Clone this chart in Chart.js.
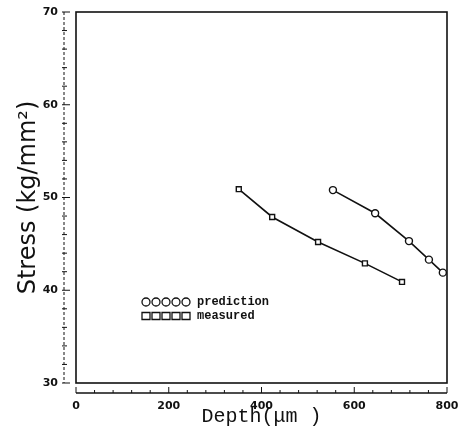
<!DOCTYPE html>
<html>
<head>
<meta charset="utf-8">
<script src="https://cdn.jsdelivr.net/npm/chart.js@4/dist/chart.umd.min.js"></script>
<style>
  html, body { margin: 0; padding: 0; background: #fff; }
  #wrap { width: 468px; height: 437px; }
</style>
</head>
<body>
<div id="wrap"><canvas id="stressChart" width="468" height="437"></canvas></div>
<script>
// values
const predictionDepth = [554, 645, 718, 761, 791];
const predictionStress = [50.8, 48.3, 45.3, 43.3, 41.9];
const measuredDepth = [351, 423, 522, 623, 703];
const measuredStress = [50.9, 47.9, 45.2, 42.9, 40.9];
const xTicks = [0, 200, 400, 600, 800];
const yTicks = [30, 40, 50, 60, 70];
const seriesNames = ["prediction", "measured"];

function toPoints(xs, ys) {
  return xs.map((x, i) => ({ x: x, y: ys[i] }));
}

// frame, offset axes with minor ticks, and the little legend inside the plot
const framePlugin = {
  id: "frame",
  afterDraw(chart) {
    const ctx = chart.ctx;
    const a = chart.chartArea;
    const xs = chart.scales.x;
    const ys = chart.scales.y;
    ctx.save();
    ctx.strokeStyle = "#111";
    ctx.lineWidth = 1.6;
    ctx.strokeRect(a.left, a.top, a.right - a.left, a.bottom - a.top);

    // y axis, drawn a bit left of the frame
    const ax = a.left - 12;
    ctx.lineWidth = 1;
    ctx.setLineDash([3, 2]);
    ctx.beginPath();
    ctx.moveTo(ax, a.top);
    ctx.lineTo(ax, a.bottom);
    ctx.stroke();
    ctx.setLineDash([]);
    for (let v = 30; v <= 70; v += 2) {
      const py = ys.getPixelForValue(v);
      const major = v % 10 === 0;
      ctx.beginPath();
      ctx.moveTo(ax - 2, py);
      ctx.lineTo(ax + (major ? 6 : 3), py);
      ctx.stroke();
    }

    // x axis, drawn a bit below the frame
    const ay = a.bottom + 10;
    ctx.lineWidth = 1.4;
    ctx.beginPath();
    ctx.moveTo(a.left, ay);
    ctx.lineTo(a.right, ay);
    ctx.stroke();
    ctx.lineWidth = 1;
    for (let v = 0; v <= 800; v += 40) {
      const px = xs.getPixelForValue(v);
      const major = v % 200 === 0;
      ctx.beginPath();
      ctx.moveTo(px, ay);
      ctx.lineTo(px, ay - (major ? 6 : 3));
      ctx.stroke();
    }

    // legend
    const lx = a.left + 70;
    const rows = [a.top + 290, a.top + 304];
    const styles = ["circle", "rect"];
    ctx.font = "bold 12px 'Liberation Mono', monospace";
    ctx.fillStyle = "#111";
    ctx.textBaseline = "middle";
    rows.forEach((ry, r) => {
      for (let k = 0; k < 5; k++) {
        const cx = lx + k * 10;
        ctx.beginPath();
        if (styles[r] === "circle") {
          ctx.arc(cx, ry, 4, 0, Math.PI * 2);
        } else {
          ctx.rect(cx - 4, ry - 3.5, 8, 7);
        }
        ctx.lineWidth = 1.3;
        ctx.stroke();
      }
      ctx.fillText(seriesNames[r], lx + 51, ry);
    });
    ctx.restore();
  }
};

new Chart(document.getElementById("stressChart"), {
  type: "line",
  data: {
    datasets: [
      {
        label: seriesNames[0],
        data: toPoints(predictionDepth, predictionStress),
        borderColor: "#111",
        borderWidth: 1.6,
        pointStyle: "circle",
        pointRadius: 3.5,
        pointBorderWidth: 1.4,
        pointBackgroundColor: "#fff",
        pointBorderColor: "#111",
        tension: 0
      },
      {
        label: seriesNames[1],
        data: toPoints(measuredDepth, measuredStress),
        borderColor: "#111",
        borderWidth: 1.6,
        pointStyle: "rect",
        pointRadius: 3.5,
        pointBorderWidth: 1.4,
        pointBackgroundColor: "#fff",
        pointBorderColor: "#111",
        tension: 0
      }
    ]
  },
  options: {
    responsive: false,
    animation: false,
    layout: { padding: { left: 0, right: 21, top: 12, bottom: 0 } },
    plugins: {
      legend: { display: false },
      tooltip: { enabled: false }
    },
    scales: {
      x: {
        type: "linear",
        min: 0,
        max: 800,
        afterBuildTicks: (s) => { s.ticks = xTicks.map(v => ({ value: v })); },
        afterFit: (s) => { s.height = 54; s.paddingLeft = 0; s.paddingRight = 0; },
        grid: { display: false },
        border: { display: false },
        ticks: {
          padding: 9,
          color: "#111",
          font: { family: "'DejaVu Sans', sans-serif", size: 11, weight: "bold" }
        },
        title: {
          display: true,
          text: "Depth(\u03bcm )",
          color: "#111",
          padding: { top: 0, bottom: 8 },
          font: { family: "'Liberation Mono', monospace", size: 20 }
        }
      },
      y: {
        type: "linear",
        min: 30,
        max: 70,
        afterBuildTicks: (s) => { s.ticks = yTicks.map(v => ({ value: v })); },
        afterFit: (s) => { s.width = 76; s.paddingTop = 0; s.paddingBottom = 0; },
        grid: { display: false },
        border: { display: false },
        ticks: {
          padding: 10,
          color: "#111",
          font: { family: "'DejaVu Sans', sans-serif", size: 11, weight: "bold" }
        },
        title: {
          display: true,
          text: "Stress (kg/mm\u00b2)",
          color: "#111",
          padding: { top: 14, bottom: 0 },
          font: { family: "'DejaVu Sans', sans-serif", size: 24 }
        }
      }
    }
  },
  plugins: [framePlugin]
});
</script>
</body>
</html>
